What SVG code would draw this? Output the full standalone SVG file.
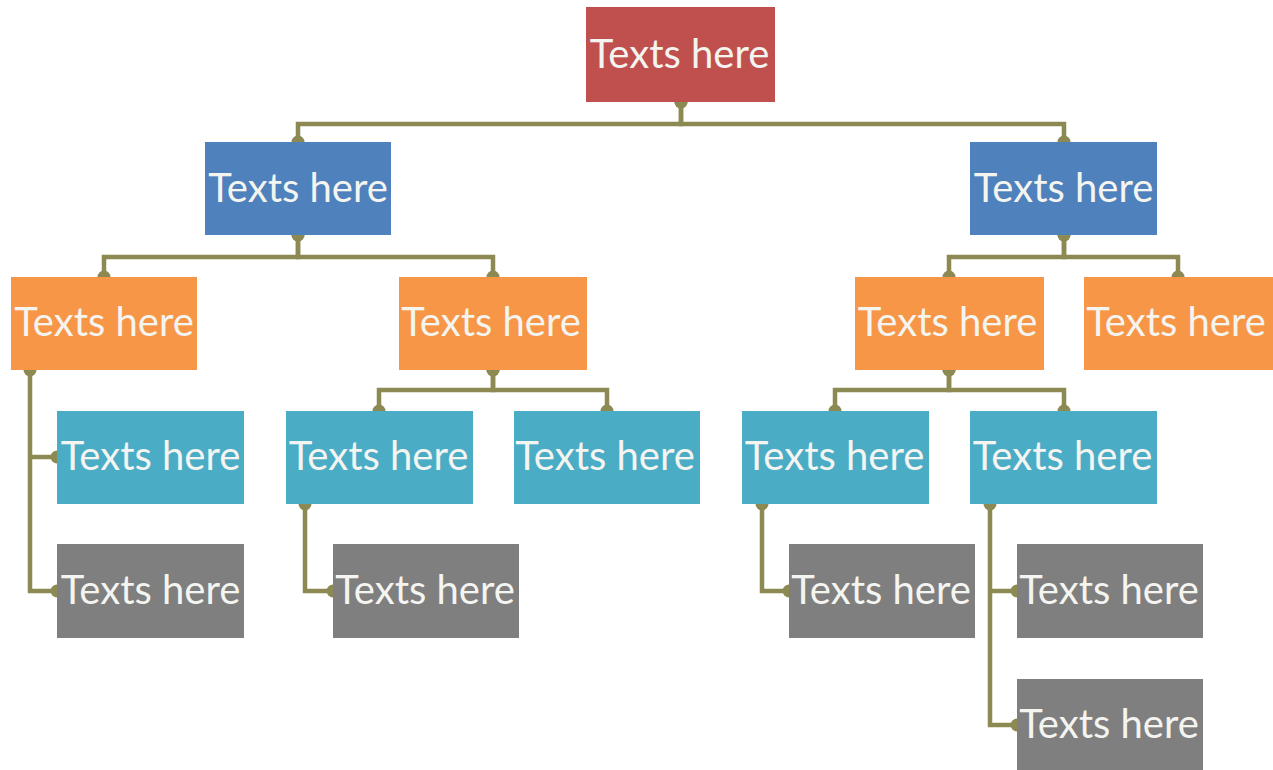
<svg xmlns="http://www.w3.org/2000/svg" width="1273" height="770" viewBox="0 0 1273 770">
<defs>
<marker id="dot" viewBox="0 0 14 14" refX="7" refY="7" markerWidth="14" markerHeight="14" markerUnits="userSpaceOnUse">
<circle cx="7" cy="7" r="6.5" fill="#8c8a52"/>
</marker>
<style>
.c{fill:none;stroke:#8c8a52;stroke-width:4.5;stroke-linejoin:miter;marker-start:url(#dot);marker-end:url(#dot)}
.b{fill:none;stroke:#8c8a52;stroke-width:4.5;marker-end:url(#dot)}
.t{font-family:"Lato","Liberation Sans",sans-serif;font-size:40px;fill:#f4f4f0;text-anchor:middle}
.red{fill:#c0504d}.blue{fill:#4f81bd}.org{fill:#f79646}.teal{fill:#4bacc6}.gray{fill:#7f7f7f}
</style>
</defs>
<rect width="1273" height="770" fill="#ffffff"/>
<g id="connectors">
<path class="c" d="M681,102 V124 H298 V142"/>
<path class="c" d="M681,102 V124 H1064 V142"/>
<path class="c" d="M298,235 V257 H104 V277"/>
<path class="c" d="M298,235 V257 H493 V277"/>
<path class="c" d="M1064,235 V257 H949 V277"/>
<path class="c" d="M1064,235 V257 H1178 V277"/>
<path class="c" d="M30,370 V591 H57"/>
<path class="b" d="M30,457 H57"/>
<path class="c" d="M493,370 V390 H379 V411"/>
<path class="c" d="M493,370 V390 H607 V411"/>
<path class="c" d="M305,504 V591 H333"/>
<path class="c" d="M949,370 V390 H835 V411"/>
<path class="c" d="M949,370 V390 H1064 V411"/>
<path class="c" d="M762,504 V591 H789"/>
<path class="c" d="M990,504 V725 H1017"/>
<path class="b" d="M990,591 H1017"/>
</g>
<g id="root"><rect class="red" x="586" y="7" width="189" height="95"/><text class="t" x="679.5" y="68">Texts here</text></g>
<g id="l1a"><rect class="blue" x="205" y="142" width="186" height="93"/><text class="t" x="298" y="202">Texts here</text></g>
<g id="l1b"><rect class="blue" x="970" y="142" width="187" height="93"/><text class="t" x="1063.5" y="202">Texts here</text></g>
<g id="l2a"><rect class="org" x="11" y="277" width="186" height="93"/><text class="t" x="104" y="336">Texts here</text></g>
<g id="l2b"><rect class="org" x="399" y="277" width="188" height="93"/><text class="t" x="491" y="336">Texts here</text></g>
<g id="l2c"><rect class="org" x="855" y="277" width="189" height="93"/><text class="t" x="947.5" y="336">Texts here</text></g>
<g id="l2d"><rect class="org" x="1084" y="277" width="189" height="93"/><text class="t" x="1176" y="336">Texts here</text></g>
<g id="l3a"><rect class="teal" x="57" y="411" width="187" height="93"/><text class="t" x="150.5" y="470">Texts here</text></g>
<g id="l3b"><rect class="teal" x="286" y="411" width="187" height="93"/><text class="t" x="378.5" y="470">Texts here</text></g>
<g id="l3c"><rect class="teal" x="514" y="411" width="186" height="93"/><text class="t" x="605" y="470">Texts here</text></g>
<g id="l3d"><rect class="teal" x="742" y="411" width="187" height="93"/><text class="t" x="834.5" y="470">Texts here</text></g>
<g id="l3e"><rect class="teal" x="970" y="411" width="187" height="93"/><text class="t" x="1062.5" y="470">Texts here</text></g>
<g id="l4a"><rect class="gray" x="57" y="544" width="187" height="94"/><text class="t" x="150.5" y="604">Texts here</text></g>
<g id="l4b"><rect class="gray" x="333" y="544" width="186" height="94"/><text class="t" x="425" y="604">Texts here</text></g>
<g id="l4c"><rect class="gray" x="789" y="544" width="186" height="94"/><text class="t" x="881" y="604">Texts here</text></g>
<g id="l4d"><rect class="gray" x="1017" y="544" width="186" height="94"/><text class="t" x="1109" y="604">Texts here</text></g>
<g id="l4e"><rect class="gray" x="1017" y="679" width="186" height="91"/><text class="t" x="1109" y="738">Texts here</text></g>
</svg>
